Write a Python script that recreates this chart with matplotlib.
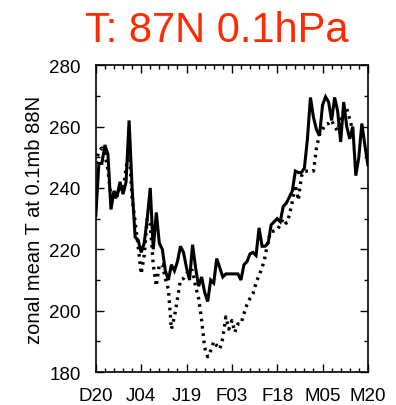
import matplotlib
matplotlib.use("Agg")
import matplotlib.pyplot as plt
from matplotlib.ticker import MultipleLocator
import numpy as np

# temperatur, Dec 20 -> Mar 20 (gunluk)
solid_T = [231, 248, 248, 254, 251, 233, 239, 237, 242, 238,
           242, 262, 240, 224, 223, 219, 222, 230, 240, 220,
           232, 222, 220, 213, 210, 215, 213, 216, 221, 219,
           214, 210, 221.5, 214, 208, 211, 206, 203, 210, 209,
           217, 214, 211, 212, 212, 212, 212, 212, 210, 215,
           216, 218.5, 219, 218, 227, 221, 221, 222, 228, 229,
           230, 229, 234, 235, 237, 239, 245.5, 245, 245, 246.5,
           256, 269.5, 263, 259, 257, 267, 269.7, 268, 262, 269.5,
           265, 255, 268, 260, 256, 260, 244, 250, 261, 254, 247.5]
dotted_T = [248, 252, 253, 251, 246, 237, 236, 238, 240.5, 239,
            246.5, 253, 236.7, 229, 221, 212, 218, 230, 228, 215,
            208, 215, 215, 210.5, 207, 194, 198, 204, 210, 210.5,
            212, 213.8, 213, 208, 204, 197, 188, 185, 187, 190,
            188.6, 187.5, 191, 198, 194, 196.8, 193, 195.7, 195.7, 199,
            202, 204, 205.6, 209, 211.6, 214, 217.6, 223, 225.8, 226,
            226.3, 228, 230, 228.5, 231, 235.6, 241, 236, 243.8, 245.5,
            245.5, 245.5, 245.5, 253, 257.5, 259, 260.8, 261, 262, 260,
            258.6, 262, 265, 266, 262.4, 258.6]
tick_labels = ["D20", "J04", "J19", "F03", "F18", "M05", "M20"]

plt.rcParams['font.family'] = ['Liberation Sans', 'DejaVu Sans']

fig = plt.figure(figsize=(3.96, 4.06), dpi=100)
ax = fig.add_axes([0.242, 0.081, 0.687, 0.756])

gun1 = np.arange(len(solid_T))
gun2 = np.arange(len(dotted_T))
ax.plot(gun1, solid_T, color='black', lw=2.2, solid_joinstyle='miter')
ax.plot(gun2, dotted_T, color='black', lw=2.4, linestyle=(0, (0.8, 1.4)))

ax.set_xlim(0, 90)
ax.set_ylim(180, 280)
ax.set_xticks(np.arange(0, 91, 15))
ax.set_xticklabels(tick_labels)
ax.xaxis.set_minor_locator(MultipleLocator(3))
ax.yaxis.set_major_locator(MultipleLocator(20))
ax.yaxis.set_minor_locator(MultipleLocator(10))
ax.tick_params(which='both', direction='in', top=True, right=True, labelsize=13.5)
ax.tick_params(axis='x', pad=11)
ax.tick_params(axis='y', pad=11)
ax.tick_params(which='major', length=6, width=1)
ax.tick_params(which='minor', length=3, width=1)
for s in ax.spines.values():
    s.set_linewidth(1.2)

ax.set_ylabel("zonal mean T at 0.1mb 88N", fontsize=14.5)
ax.yaxis.set_label_coords(-0.191, 0.5)
fig.text(0.547, 1 - 42 / 406, "T: 87N 0.1hPa", color='#ff2a00', fontsize=30,
         ha='center', va='baseline')

fig.savefig("out.png", dpi=100)
